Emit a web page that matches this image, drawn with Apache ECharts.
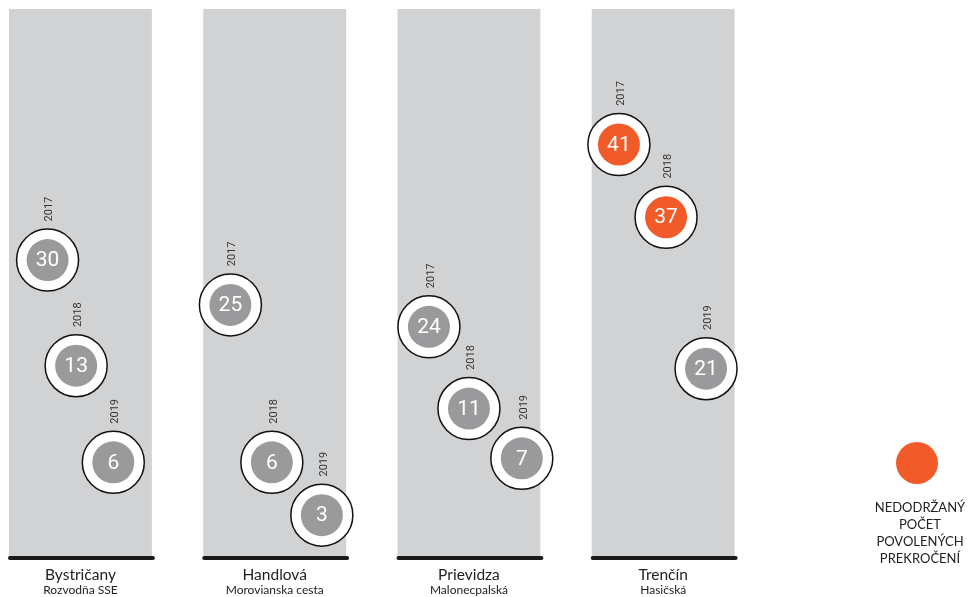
<!DOCTYPE html>
<html>
<head>
<meta charset="utf-8">
<script src="https://cdn.jsdelivr.net/npm/echarts@6/dist/echarts.min.js"></script>
<style>
html,body{margin:0;padding:0;background:#fff;}
#chart{width:969px;height:597px;}
</style>
</head>
<body>
<div id="chart"></div>
<script>
// ---- data ----
const stations = ['Bystričany', 'Handlová', 'Prievidza', 'Trenčín'];
const streets = ['Rozvodňa SSE', 'Morovianska cesta', 'Malonecpalská', 'Hasičská'];
const years = ['2017', '2018', '2019'];
// number of PM10 exceedances per station
const exceed2017 = [30, 25, 24, 41];
const exceed2018 = [13, 6, 11, 37];
const exceed2019 = [6, 3, 7, 21];
// vertical level of each bubble on the chart scale
const level2017 = [29.8, 25.3, 23.1, 41.4];
const level2018 = [19.2, 9.5, 14.9, 34.1];
const level2019 = [9.5, 4.2, 9.9, 18.9];
// horizontal place of each bubble inside its column (0 = left edge, 1 = right edge)
const place2017 = [0.27, 0.19, 0.22, 0.19];
const place2018 = [0.47, 0.48, 0.50, 0.52];
const place2019 = [0.73, 0.83, 0.87, 0.80];
const allowedExceedances = 35;
const legendText = ['NEDODRŽANÝ', 'POČET', 'POVOLENÝCH', 'PREKROČENÍ'];

// ---- chart ----
const COL_W = 0.7356;   // column width in x-axis units (column pitch = 1)
const Y_MAX = 55;
const GREY_COL = '#d1d2d4';
const GREY_DOT = '#9a9a9c';
const ORANGE = '#f15a29';

const exceedByYear = [exceed2017, exceed2018, exceed2019];
const levelByYear = [level2017, level2018, level2019];
const placeByYear = [place2017, place2018, place2019];

const bubbleData = [];
stations.forEach((s, i) => {
  years.forEach((y, k) => {
    bubbleData.push([i + placeByYear[k][i] * COL_W, levelByYear[k][i], exceedByYear[k][i], y]);
  });
});

const chart = echarts.init(document.getElementById('chart'), null, {renderer: 'canvas'});

chart.setOption({
  animation: false,
  backgroundColor: '#ffffff',
  grid: {left: 9, right: 183, top: 9, bottom: 40, containLabel: false},
  xAxis: {type: 'value', min: 0, max: 4, show: false},
  yAxis: {type: 'value', min: 0, max: Y_MAX, show: false},
  series: [
    {
      type: 'custom',
      clip: false,
      silent: true,
      z: 1,
      data: stations.map((s, i) => [i]),
      renderItem: function (params, api) {
        const i = api.value(0);
        const p0 = api.coord([i, Y_MAX]);
        const p1 = api.coord([i + COL_W, 0]);
        const cx = (p0[0] + p1[0]) / 2;
        return {
          type: 'group',
          children: [
            {type: 'rect', shape: {x: p0[0], y: p0[1], width: p1[0] - p0[0], height: p1[1] - p0[1]},
             style: {fill: GREY_COL}},
            {type: 'line', shape: {x1: p0[0] + 1, y1: p1[1] + 1, x2: p1[0] + 1, y2: p1[1] + 1},
             style: {stroke: '#1a1a1a', lineWidth: 4, lineCap: 'round'}},
            {type: 'text', x: cx, y: p1[1] + 18,
             style: {text: stations[i], fill: '#222', font: '15.5px Lato, sans-serif', align: 'center', verticalAlign: 'middle'}},
            {type: 'text', x: cx, y: p1[1] + 33,
             style: {text: streets[i], fill: '#222', font: '12px Lato, sans-serif', align: 'center', verticalAlign: 'middle'}}
          ]
        };
      }
    },
    {
      type: 'custom',
      clip: false,
      silent: true,
      z: 2,
      data: bubbleData,
      renderItem: function (params, api) {
        const c = api.coord([api.value(0), api.value(1)]);
        const v = api.value(2);
        const yr = bubbleData[params.dataIndex][3];
        return {
          type: 'group',
          children: [
            {type: 'circle', shape: {cx: c[0], cy: c[1], r: 31},
             style: {fill: '#ffffff', stroke: '#111', lineWidth: 1.5}},
            {type: 'circle', shape: {cx: c[0], cy: c[1], r: 21},
             style: {fill: v > allowedExceedances ? ORANGE : GREY_DOT}},
            {type: 'text', x: c[0], y: c[1] + 1,
             style: {text: String(v), fill: '#ffffff', font: '21px Roboto, sans-serif', align: 'center', verticalAlign: 'middle'}},
            {type: 'text', x: c[0] + 2, y: c[1] - 51, rotation: Math.PI / 2,
             style: {text: yr, fill: '#333', font: '11px Roboto, sans-serif', align: 'center', verticalAlign: 'middle'}}
          ]
        };
      }
    }
  ],
  graphic: [
    {type: 'circle', shape: {cx: 917, cy: 463, r: 21}, style: {fill: ORANGE}},
    {type: 'text', x: 920, y: 499,
     style: {text: legendText.join('\n'), fill: '#222', font: '13px Lato, sans-serif', lineHeight: 17, align: 'center', verticalAlign: 'top'}}
  ]
});
</script>
</body>
</html>
